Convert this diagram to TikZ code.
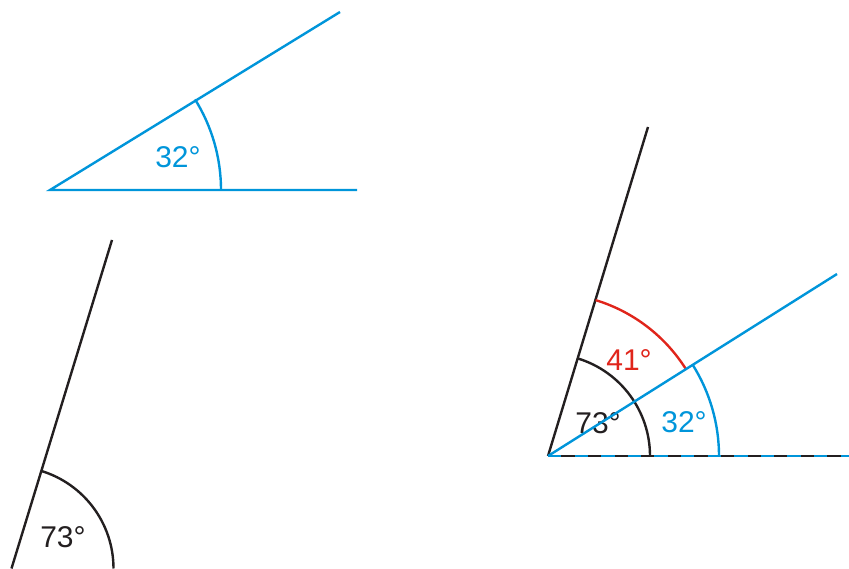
\documentclass[tikz,border=0pt]{standalone}
\usepackage{fontspec}
\setmainfont{Liberation Sans}
\usetikzlibrary{positioning,calc}
\definecolor{sky}{HTML}{0095DA}
\definecolor{brick}{HTML}{E0251B}
\definecolor{ink}{HTML}{231F20}
\begin{document}
\begin{tikzpicture}[x=1pt,y=1pt,line width=2.4pt,
  ray/.style={draw=ink},
  lbl/.style={inner sep=0pt,font=\fontsize{30}{34}\selectfont}]
\clip (0,0) rectangle (849,568);
\useasboundingbox (0,0) rectangle (849,568);
\coordinate (a) at (50,378);
\coordinate (a1) at (357,378);
\coordinate (a2) at (340,556);
\draw[sky] (a1)--(a)--(a2);
\draw[sky] ($(a)+(0:171)$) arc[start angle=0,end angle=32,radius=171];
\node[lbl,text=sky] (a32) at (178,411) {32°};
\coordinate (b) at (11.5,-0.5);
\coordinate (b2) at (112,328);
\draw[ray] (b)--(b2);
\draw[ray] ($(b)+(0:102)$) arc[start angle=0,end angle=73,radius=102];
\node[lbl,text=ink] (b73) at (63,31) {73°};
\coordinate (c) at (548,112);
\coordinate (c1) at (849,112);
\coordinate (c2) at (648,441);
\coordinate (c3) at (837,294);
\draw[ray] (c)--(c1);
\draw[sky,dash pattern=on 13.3pt off 13.3pt] (c)--(c1);
\draw[ray] (c)--(c2);
\draw[ray] ($(c)+(0:102)$) arc[start angle=0,end angle=73,radius=102];
\draw[brick] ($(c)+(32:163)$) arc[start angle=32,end angle=73,radius=163];
\draw[sky] ($(c)+(0:171)$) arc[start angle=0,end angle=32,radius=171];
\node[lbl,text=brick] (c41) at (629,208) {41°};
\node[lbl,text=ink] (c73) at (598,145) {73°};
\node[lbl,text=sky] (c32) at (684,146) {32°};
\draw[sky] (c)--(c3);
\end{tikzpicture}
\end{document}
